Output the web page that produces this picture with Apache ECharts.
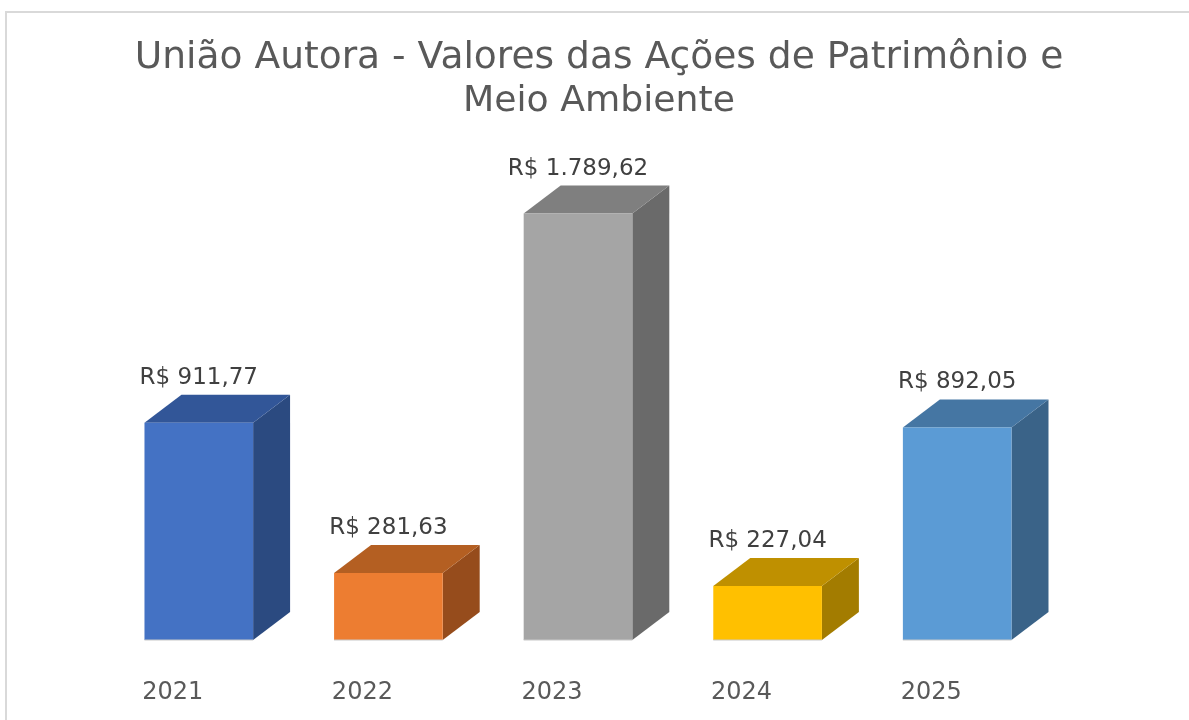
<!DOCTYPE html>
<html>
<head>
<meta charset="utf-8">
<script src="https://cdn.jsdelivr.net/npm/echarts@6/dist/echarts.min.js"></script>
<style>
html,body{margin:0;padding:0;background:#fff;}
#chart{width:1189px;height:720px;}
</style>
</head>
<body>
<div id="chart"></div>
<script>
const categories = ['2021', '2022', '2023', '2024', '2025'];
const values = [911.77, 281.63, 1789.62, 227.04, 892.05];
const titleLines = ['União Autora - Valores das Ações de Patrimônio e', 'Meio Ambiente'];

const frontColors = ['#4472C4', '#ED7D31', '#A5A5A5', '#FFC000', '#5B9BD5'];
const topColors = ['#325698', '#B45F22', '#7F7F7F', '#BF9000', '#4576A3'];
const sideColors = ['#2B4A80', '#964C1C', '#6A6A6A', '#A37C00', '#3A6388'];

function fmtBRL(v) {
  const parts = v.toFixed(2).split('.');
  const intPart = parts[0].replace(/\B(?=(\d{3})+(?!\d))/g, '.');
  return 'R$ ' + intPart + ',' + parts[1];
}

const chart = echarts.init(document.getElementById('chart'));
const FONT = "'DejaVu Sans', Verdana, sans-serif";

chart.setOption({
  backgroundColor: '#ffffff',
  animation: false,
  title: {
    text: '{a|' + titleLines[0] + '}\n{b|' + titleLines[1] + '}',
    left: 594,
    top: 31,
    textAlign: 'center',
    textStyle: {
      fontFamily: FONT,
      fontSize: 36,
      fontWeight: 'normal',
      color: '#595959',
      lineHeight: 44,
      rich: {
        a: { fontFamily: FONT, fontSize: 37.6, color: '#595959', lineHeight: 44 },
        b: { fontFamily: FONT, fontSize: 36.2, color: '#595959', lineHeight: 44 }
      }
    }
  },
  graphic: [{
    type: 'rect',
    shape: { x: 6, y: 12, width: 1200, height: 720 },
    style: { fill: 'none', stroke: '#d9d9d9', lineWidth: 2 },
    silent: true
  }],
  grid: { left: 104, right: 137, top: 163.4, bottom: 80 },
  xAxis: {
    type: 'category',
    data: categories,
    axisLine: { show: false },
    axisTick: { show: false },
    axisLabel: {
      fontFamily: FONT,
      fontSize: 24,
      color: '#595959',
      margin: 41,
      padding: [0, 52, 0, 0]
    }
  },
  yAxis: {
    type: 'value',
    min: 0,
    max: 2000,
    show: false,
    splitLine: { show: false }
  },
  series: [{
    type: 'custom',
    data: values.map((v, i) => [i, v]),
    renderItem: function (params, api) {
      const i = api.value(0);
      const v = api.value(1);
      const base = api.coord([i, 0]);
      const topP = api.coord([i, v]);
      const band = api.size([1, 0])[0];
      const bw = band * 0.573;
      const dx = band * 0.195;
      const dy = dx * 0.757;
      const x0 = base[0] - bw / 2;
      const x1 = base[0] + bw / 2;
      const yb = base[1];
      const yt = topP[1];
      return {
        type: 'group',
        children: [
          {
            type: 'polygon',
            shape: { points: [[x1, yt], [x1 + dx, yt - dy], [x1 + dx, yb - dy], [x1, yb]] },
            style: { fill: sideColors[i] }
          },
          {
            type: 'polygon',
            shape: { points: [[x0, yt], [x0 + dx, yt - dy], [x1 + dx, yt - dy], [x1, yt]] },
            style: { fill: topColors[i] }
          },
          {
            type: 'rect',
            shape: { x: x0, y: yt, width: bw, height: yb - yt },
            style: { fill: frontColors[i] }
          },
          {
            type: 'line',
            shape: { x1: x0, y1: yb, x2: x1, y2: yb },
            style: { stroke: '#c8c8c8', lineWidth: 1 }
          },
          {
            type: 'text',
            style: {
              x: base[0],
              y: yt - 45,
              text: fmtBRL(v),
              fontFamily: FONT,
              fontSize: 23,
              fill: '#404040',
              align: 'center',
              verticalAlign: 'middle'
            }
          }
        ]
      };
    }
  }]
});
</script>
</body>
</html>
